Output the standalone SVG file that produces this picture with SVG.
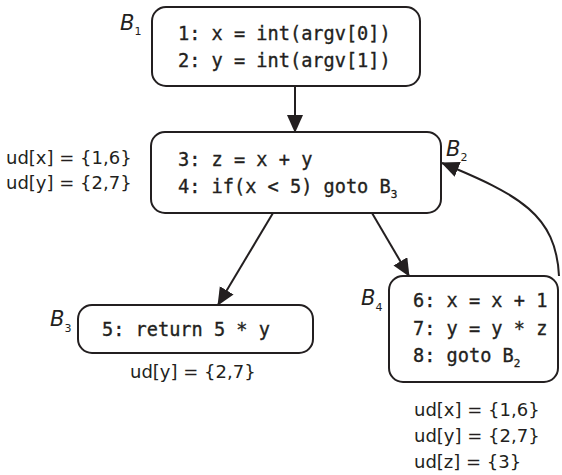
<svg xmlns="http://www.w3.org/2000/svg" width="562" height="475" viewBox="0 0 562 475">
<style>
.box{fill:#fff;stroke:#231f20;stroke-width:2}
.code{font-family:"DejaVu Sans Mono","Liberation Mono",monospace;font-size:18.6px;fill:#231f20;stroke:#231f20;stroke-width:0.35}
.ud{font-family:"DejaVu Sans","Liberation Sans",sans-serif;font-size:18px;fill:#231f20}
.lbl{font-family:"DejaVu Sans","Liberation Sans",sans-serif;font-size:21px;font-style:italic;fill:#231f20}
.sub{font-size:11px;font-style:normal}
.csub{font-size:11px}
.edge{fill:none;stroke:#231f20;stroke-width:2}
</style>
<defs>
<marker id="ah" markerUnits="userSpaceOnUse" markerWidth="20" markerHeight="18" refX="17" refY="8" orient="auto">
<path d="M0,0 L18,8 L0,16 Z" fill="#231f20"/>
</marker>
</defs>
<g id="edges">
<line class="edge" x1="295" y1="86" x2="295" y2="132" marker-end="url(#ah)"/>
<line class="edge" x1="273" y1="213" x2="218" y2="305" marker-end="url(#ah)"/>
<line class="edge" x1="372" y1="213" x2="409" y2="276" marker-end="url(#ah)"/>
<path class="edge" d="M559,276 C556,215 520,195 442,163" marker-end="url(#ah)"/>
</g>
<g id="B1">
<rect class="box" x="152" y="7" width="268" height="79" rx="14"/>
<text class="code" x="178" y="40">1: x = int(argv[0])</text>
<text class="code" x="178" y="67">2: y = int(argv[1])</text>
<text class="lbl" x="120" y="30">B<tspan class="sub" dy="5">1</tspan></text>
</g>
<g id="B2">
<rect class="box" x="151" y="132" width="290" height="81" rx="14"/>
<text class="code" x="178" y="166">3: z = x + y</text>
<text class="code" x="178" y="193">4: if(x &lt; 5) goto B<tspan class="csub" dy="5">3</tspan></text>
<text class="lbl" x="446" y="156">B<tspan class="sub" dy="5">2</tspan></text>
<text class="ud" x="6" y="164">ud[x] = {1,6}</text>
<text class="ud" x="6" y="189">ud[y] = {2,7}</text>
</g>
<g id="B3">
<rect class="box" x="78" y="305" width="235" height="48" rx="14"/>
<text class="code" x="102" y="336">5: return 5 * y</text>
<text class="lbl" x="50" y="326">B<tspan class="sub" dy="6">3</tspan></text>
<text class="ud" x="130" y="378">ud[y] = {2,7}</text>
</g>
<g id="B4">
<rect class="box" x="389" y="276" width="169" height="106" rx="14"/>
<text class="code" x="413" y="307">6: x = x + 1</text>
<text class="code" x="413" y="335">7: y = y * z</text>
<text class="code" x="413" y="362">8: goto B<tspan class="csub" dy="5">2</tspan></text>
<text class="lbl" x="361" y="305">B<tspan class="sub" dy="6">4</tspan></text>
<text class="ud" x="414" y="416">ud[x] = {1,6}</text>
<text class="ud" x="414" y="442">ud[y] = {2,7}</text>
<text class="ud" x="414" y="468">ud[z] = {3}</text>
</g>
</svg>
